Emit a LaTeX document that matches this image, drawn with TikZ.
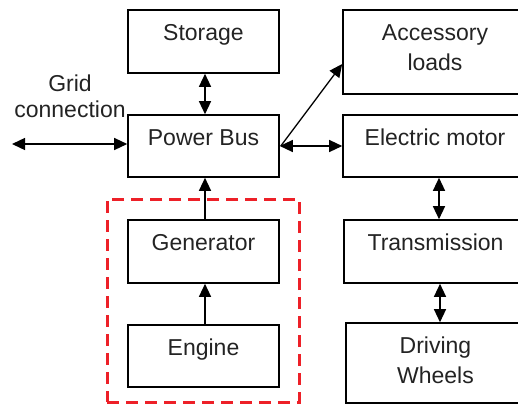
\documentclass[tikz,border=0pt]{standalone}
\usepackage{fontspec}
\setmainfont{Liberation Sans}
\usetikzlibrary{arrows.meta,fit}
\definecolor{dashred}{RGB}{237,32,40}
\definecolor{txt}{RGB}{35,35,35}
\begin{document}
\begin{tikzpicture}[x=1pt,y=-1pt,
  >={Triangle[length=13pt,width=12pt]},
  box/.style={draw=black, line width=1.6pt, inner sep=0pt, fill=none},
  lbl/.style={anchor=base, inner sep=0pt, font=\fontsize{23}{28}\selectfont, text=txt},
  conn/.style={line width=1.3pt, draw=black},
  bi/.style={conn, <->},
  uni/.style={conn, ->}
]
\useasboundingbox (0,0) rectangle (518,405);
\begin{scope}
\clip (0,0) rectangle (518,405);
% boxes
\node[box, fit={(128,10) (279,73)}] (storage) {};
\node[box, fit={(128,115) (279,177)}] (pbus) {};
\node[box, fit={(128,220) (279,283)}] (gen) {};
\node[box, fit={(128,325) (279,387)}] (engine) {};
\node[box, fit={(343,10) (527,94)}] (acc) {};
\node[box, fit={(343,115) (527,177)}] (motor) {};
\node[box, fit={(344,220) (527,283)}] (trans) {};
\node[box, fit={(346,323) (527,403)}] (wheels) {};
% dashed group
\node[draw=dashred, line width=3pt, dash pattern=on 12pt off 7pt, inner sep=0pt, fit={(107,199) (299,402)}] (group) {};
\end{scope}
% labels
\node[lbl] (tstorage) at ([yshift=-31.5pt]storage.north) {Storage};
\node[lbl] (tpbus) at ([yshift=-31.5pt]pbus.north) {Power Bus};
\node[lbl] (tgen) at ([yshift=-31.5pt]gen.north) {Generator};
\node[lbl] (tengine) at ([yshift=-31.5pt]engine.north) {Engine};
\node[lbl] (tacc1) at ([yshift=-31.5pt]acc.north) {Accessory};
\node[lbl] (tacc2) at ([yshift=-61.5pt]acc.north) {loads};
\node[lbl] (tmotor) at ([yshift=-31.5pt]motor.north) {Electric motor};
\node[lbl] (ttrans) at ([yshift=-31.5pt]trans.north) {Transmission};
\node[lbl] (twheels1) at ([yshift=-31.5pt, xshift=-1pt]wheels.north) {Driving};
\node[lbl] (twheels2) at ([yshift=-61.5pt, xshift=-1pt]wheels.north) {Wheels};
\node[lbl] (tgrid1) at (70,91.5) {Grid};
\node[lbl] (tgrid2) at (70,117) {connection};
% connectors
\coordinate (gridend) at (12,144);
\draw[bi] ([xshift=1.5pt]storage.south) -- ([xshift=1.5pt]pbus.north);
\draw[bi] (gridend) -- ([yshift=2pt]pbus.west);
\draw[bi] (pbus.east) -- (motor.west);
\draw[uni] ([xshift=1pt]pbus.east) -- ([yshift=-12pt]acc.west);
\draw[uni] ([xshift=1.5pt]gen.north) -- ([xshift=1.5pt]pbus.south);
\draw[uni] ([xshift=1.5pt]engine.north) -- ([xshift=1.5pt]gen.south);
\draw[bi] ([xshift=4pt]motor.south) -- ([xshift=3.5pt]trans.south |- trans.north);
\draw[bi] ([xshift=4.5pt]trans.south) -- ([xshift=4.5pt]trans.south |- wheels.north);
\end{tikzpicture}
\end{document}
